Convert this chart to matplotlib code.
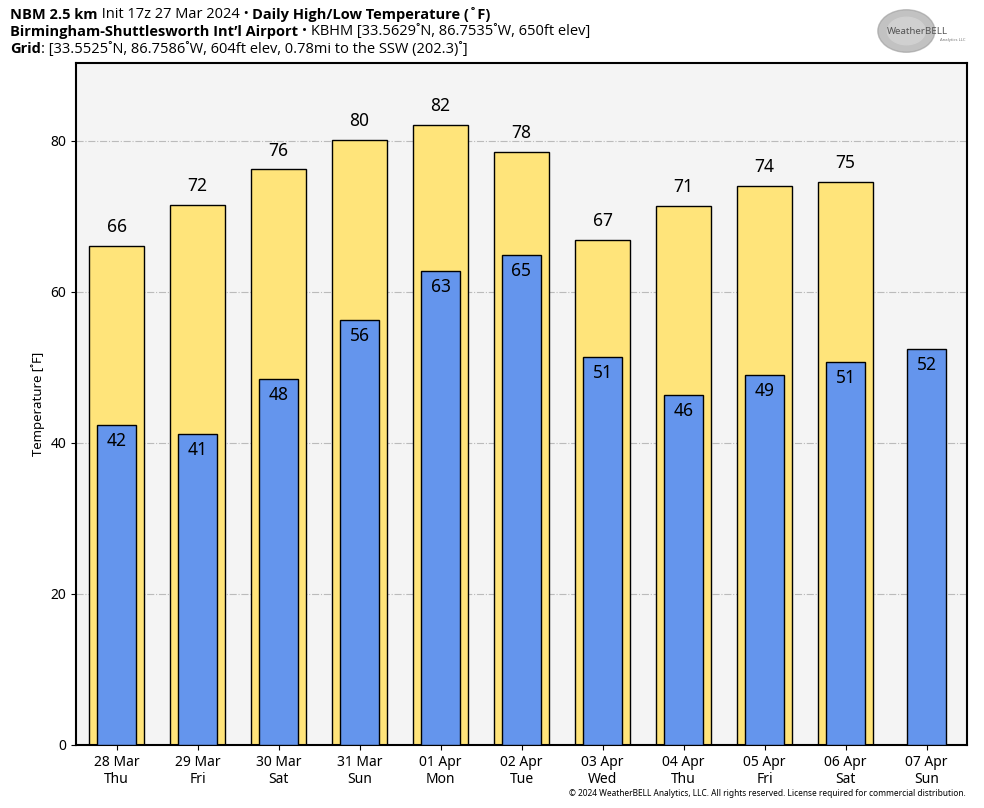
import matplotlib
matplotlib.use("Agg")
import matplotlib.pyplot as plt
from matplotlib.patches import Ellipse

plt.rcParams['font.family'] = ['Noto Sans', 'DejaVu Sans']

# data
dates = ['28 Mar', '29 Mar', '30 Mar', '31 Mar', '01 Apr', '02 Apr', '03 Apr',
         '04 Apr', '05 Apr', '06 Apr', '07 Apr']
days = ['Thu', 'Fri', 'Sat', 'Sun', 'Mon', 'Tue', 'Wed', 'Thu', 'Fri', 'Sat', 'Sun']
highs = [66.1, 71.5, 76.2, 80.1, 82.1, 78.5, 66.9, 71.4, 74.0, 74.6, None]
lows = [42.4, 41.2, 48.5, 56.3, 62.8, 64.9, 51.4, 46.4, 49.0, 50.7, 52.4]

fig = plt.figure(figsize=(9.84, 8.08), dpi=100)
ax = fig.add_axes([76 / 984, 1 - 745 / 808, 891 / 984, 682 / 808])
ax.set_facecolor('#f4f4f4')

x = list(range(len(dates)))
for i in x:
    if highs[i] is not None:
        ax.bar(i, highs[i], width=0.69, color='#ffe47a', edgecolor='black', linewidth=1, zorder=2)
        ax.annotate(f'{round(highs[i])}', (i, highs[i]), xytext=(0, 7), textcoords='offset points',
                    ha='center', va='bottom', fontsize=12.5, zorder=4)
    ax.bar(i, lows[i], width=0.49, color='#6495ed', edgecolor='black', linewidth=1, zorder=3)
    ax.annotate(f'{round(lows[i])}', (i, lows[i]), xytext=(0, -5), textcoords='offset points',
                ha='center', va='top', fontsize=12.5, zorder=4)

ax.set_xlim(-0.5, 10.5)
ax.set_ylim(0, 90.3)
ax.set_yticks([0, 20, 40, 60, 80])
ax.set_xticks(x)
ax.set_xticklabels([f'{d}\n{w}' for d, w in zip(dates, days)], fontsize=10)
ax.tick_params(axis='y', labelsize=10)
ax.yaxis.grid(True, linestyle='-.', color='#bbbbbb', linewidth=0.8, zorder=0)
ax.set_axisbelow(True)
ax.set_ylabel('Temperature [\u02daF]', fontsize=9.5)
for s in ax.spines.values():
    s.set_linewidth(1.5)

# title lines, mixed bold / regular pieces
fig.canvas.draw()
renderer = fig.canvas.get_renderer()
lines = [
    [('NBM 2.5 km', 'bold'), (' Init 17z 27 Mar 2024 \u2022 ', 'normal'),
     ('Daily High/Low Temperature (\u02daF)', 'bold')],
    [('Birmingham-Shuttlesworth Int\u2019l Airport', 'bold'),
     (' \u2022 KBHM [33.5629\u02daN, 86.7535\u02daW, 650ft elev]', 'normal')],
    [('Grid', 'bold'), (': [33.5525\u02daN, 86.7586\u02daW, 604ft elev, 0.78mi to the SSW (202.3)\u02da]', 'normal')],
]
ys = [15, 32, 49]
for parts, ypx in zip(lines, ys):
    xpx = 10
    for txt, wt in parts:
        t = fig.text(xpx / 984, 1 - ypx / 808, txt, fontsize=10.5, fontweight=wt, va='center', ha='left',
                     family=['Open Sans', 'DejaVu Sans'])
        bb = t.get_window_extent(renderer)
        xpx += bb.width

# logo stand-in
lax = fig.add_axes([875 / 984, 1 - 56 / 808, 95 / 984, 50 / 808])
lax.set_xlim(0, 1)
lax.set_ylim(0, 1)
lax.axis('off')
lax.add_patch(Ellipse((0.33, 0.5), 0.6, 0.85, color='#9a9a9a', alpha=0.6))
lax.add_patch(Ellipse((0.33, 0.5), 0.4, 0.55, color='#d0d0d0'))
lax.text(0.12, 0.5, 'WeatherBELL', fontsize=7, color='#555555', fontweight='bold', va='center')
lax.text(0.95, 0.32, 'Analytics LLC', fontsize=3, color='#777777', ha='right', va='center')

fig.text(966 / 984, 1 - 794 / 808,
         '\u00a9 2024 WeatherBELL Analytics, LLC. All rights reserved. License required for commercial distribution.',
         fontsize=6, ha='right', va='center')

fig.savefig('out.png', dpi=100)
